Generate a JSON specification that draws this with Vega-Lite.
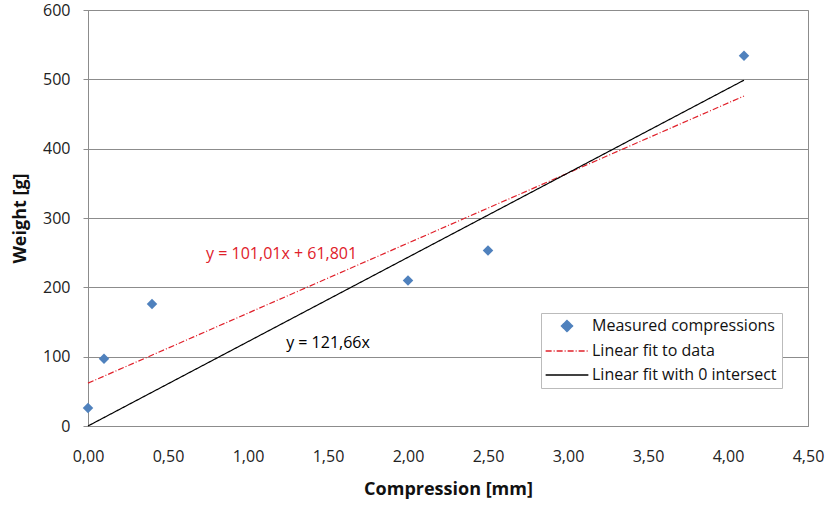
{
  "$schema": "https://vega.github.io/schema/vega-lite/v6.json",
  "autosize": "none",
  "padding": {"left": 88, "top": 10, "right": 20, "bottom": 80},
  "width": 720,
  "height": 416,
  "background": "white",
  "config": {
    "font": "Open Sans",
    "view": {"stroke": "#8c8c8c", "strokeWidth": 1},
    "axis": {"labelFont": "Open Sans", "titleFont": "Open Sans", "labelColor": "#222", "titleColor": "#111", "labelFlush": false}
  },
  "datasets": {
    "points": [
      {"x": 0.0, "y": 26, "series": "Measured compressions"},
      {"x": 0.1, "y": 97, "series": "Measured compressions"},
      {"x": 0.4, "y": 176, "series": "Measured compressions"},
      {"x": 2.0, "y": 210, "series": "Measured compressions"},
      {"x": 2.5, "y": 253, "series": "Measured compressions"},
      {"x": 4.1, "y": 534, "series": "Measured compressions"}
    ],
    "lines": [
      {"x": 0.0, "y": 61.801, "series": "Linear fit to data"},
      {"x": 4.1, "y": 475.94, "series": "Linear fit to data"},
      {"x": 0.0, "y": 0, "series": "Linear fit with 0 intersect"},
      {"x": 4.1, "y": 498.81, "series": "Linear fit with 0 intersect"}
    ],
    "labels": [
      {"x": 1.21, "y": 248, "t": "y = 101,01x + 61,801", "c": "#e0202a"},
      {"x": 1.5, "y": 120, "t": "y = 121,66x", "c": "black"}
    ]
  },
  "layer": [
    {
      "data": {"name": "lines"},
      "mark": {"type": "line", "strokeWidth": 1.2},
      "encoding": {
        "x": {"field": "x", "type": "quantitative", "scale": {"domain": [0, 4.5], "padding": 0, "nice": false, "zero": false},
          "axis": {"title": "Compression [mm]", "values": [0, 0.5, 1, 1.5, 2, 2.5, 3, 3.5, 4, 4.5],
            "labelExpr": "replace(format(datum.value, '.2f'), '.', ',')", "grid": false, "ticks": false,
            "domainColor": "#8c8c8c", "labelFontSize": 16, "labelPadding": 22,
            "titleFontSize": 18, "titleFontWeight": "bold", "titlePadding": 16}},
        "y": {"field": "y", "type": "quantitative", "scale": {"domain": [0, 600], "padding": 0, "nice": false, "zero": false},
          "axis": {"title": "Weight [g]", "values": [0, 100, 200, 300, 400, 500, 600], "grid": true,
            "gridColor": "#8c8c8c", "domainColor": "#8c8c8c", "tickColor": "#8c8c8c", "tickSize": 5,
            "labelFontSize": 16, "labelPadding": 13, "titleFontSize": 18, "titleFontWeight": "bold", "titlePadding": 13}},
        "color": {"field": "series", "type": "nominal",
          "scale": {"domain": ["Measured compressions", "Linear fit to data", "Linear fit with 0 intersect"], "range": ["#4f81bd", "#e0202a", "#000000"]},
          "legend": {"title": null, "orient": "none", "legendX": 453, "legendY": 303, "labelFontSize": 16, "labelFont": "Open Sans", "labelColor": "#111",
            "strokeColor": "#bbbbbb", "fillColor": "white", "padding": 5, "symbolSize": 120, "symbolOffset": 13, "labelOffset": 17, "rowPadding": 8, "labelLimit": 300}},
        "strokeDash": {"field": "series", "type": "nominal",
          "scale": {"domain": ["Measured compressions", "Linear fit to data", "Linear fit with 0 intersect"], "range": [[1, 0], [6, 2, 1, 2], [1, 0]]},
          "legend": {"title": null}},
        "detail": {"field": "series"}
      }
    },
    {
      "data": {"name": "points"},
      "mark": {"type": "point", "filled": true, "size": 110, "opacity": 1},
      "encoding": {
        "x": {"field": "x", "type": "quantitative"},
        "y": {"field": "y", "type": "quantitative"},
        "color": {"field": "series", "type": "nominal"},
        "shape": {"field": "series", "type": "nominal",
          "scale": {"domain": ["Measured compressions", "Linear fit to data", "Linear fit with 0 intersect"], "range": ["diamond", "M-3.9,0L3.9,0", "M-3.9,0L3.9,0"]},
          "legend": {"title": null}}
      }
    },
    {
      "data": {"name": "labels"},
      "mark": {"type": "text", "fontSize": 16, "font": "Open Sans"},
      "encoding": {
        "x": {"field": "x", "type": "quantitative"},
        "y": {"field": "y", "type": "quantitative"},
        "text": {"field": "t"},
        "color": {"field": "c", "type": "nominal", "scale": null}
      }
    }
  ]
}
